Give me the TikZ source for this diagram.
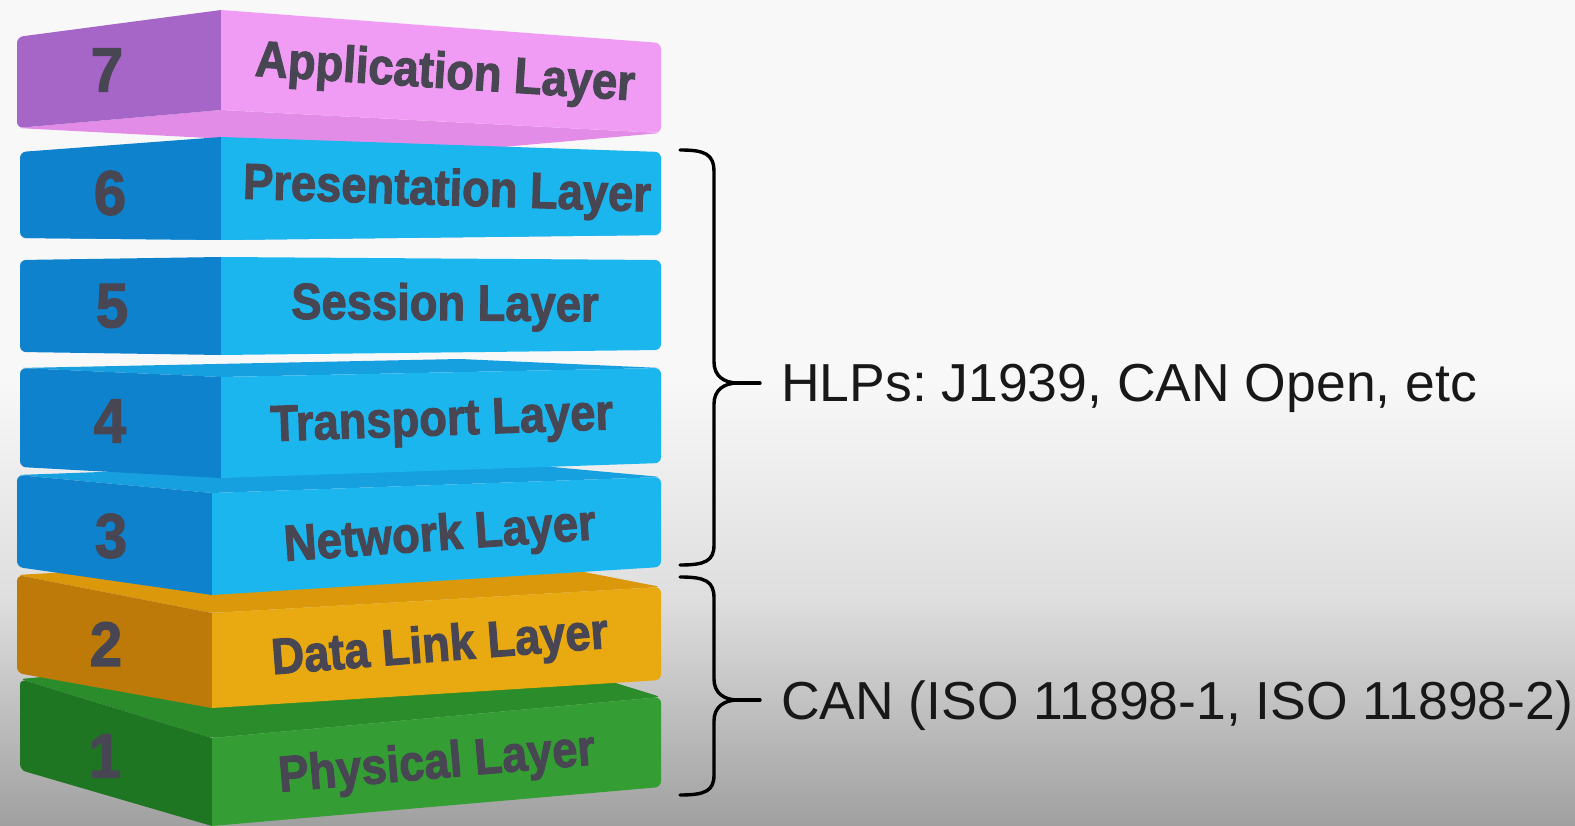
\documentclass[tikz,border=0pt]{standalone}
\usepackage{fontspec}
\setmainfont{Liberation Sans}
\newfontfamily\slabfont{Liberation Sans}[BoldFeatures={FakeBold=2.2}]
\usetikzlibrary{calc}

\definecolor{bgtop}{RGB}{248,248,248}
\definecolor{bgmid}{RGB}{222,222,222}
\definecolor{bgbot}{RGB}{160,160,160}
\definecolor{appL}{RGB}{166,102,200}
\definecolor{appR}{RGB}{240,156,244}
\definecolor{appC}{RGB}{226,140,232}
\definecolor{bluL}{RGB}{14,130,204}
\definecolor{bluR}{RGB}{28,182,238}
\definecolor{bluC}{RGB}{22,160,224}
\definecolor{dllL}{RGB}{190,122,8}
\definecolor{dllR}{RGB}{232,170,16}
\definecolor{dllC}{RGB}{218,152,10}
\definecolor{phyL}{RGB}{30,118,34}
\definecolor{phyR}{RGB}{52,158,52}
\definecolor{phyC}{RGB}{42,140,42}
\definecolor{slabink}{RGB}{72,70,82}
\definecolor{labelink}{RGB}{24,24,24}

% left face and front face of one slab, from its six named corners
\newcommand\slabbody[3]{%
  \fill[#2] (#1-ct) [rounded corners=6pt] -- (#1-lt) -- (#1-lb) [sharp corners] -- (#1-cb) -- cycle;
  \fill[#3] (#1-ct) [rounded corners=6pt] -- (#1-rt) -- (#1-rb) [sharp corners] -- (#1-cb) -- cycle;
}
% upper face (slabs below eye level)
\newcommand\slabtop[2]{%
  \fill[#2, rounded corners=5pt] (#1-lt) -- (#1-ct) -- (#1-rt) -- ($(#1-lt)+(#1-rt)-(#1-ct)$) -- cycle;
}
% lower face (slabs above eye level)
\newcommand\slabbottom[2]{%
  \fill[#2, rounded corners=5pt] (#1-lb) -- (#1-cb) -- (#1-rb) -- ($(#1-lb)+(#1-rb)-(#1-cb)$) -- cycle;
}

\begin{document}
\frenchspacing
\begin{tikzpicture}[x=1pt,y=-1pt,
  slabtext/.style={inner sep=0pt, text=slabink, font=\fontsize{44}{44}\selectfont\slabfont\bfseries},
  slabnum/.style={inner sep=0pt, text=slabink, font=\fontsize{58}{58}\selectfont\slabfont\bfseries},
  bracetext/.style={inner sep=0pt, anchor=base west, text=labelink, font=\fontsize{53.5}{53.5}\selectfont},
  brace/.style={draw=black, line width=3.4pt, line cap=round, line join=round}]

\useasboundingbox (0,0) rectangle (1575,826);

% backdrop: light at the top, darkening towards the bottom
\fill[bgtop] (0,0) rectangle (1575,380);
\shade[top color=bgtop, bottom color=bgmid] (0,380) rectangle (1575,600);
\shade[top color=bgmid, bottom color=bgbot] (0,599) rectangle (1575,826);

% ---- corners of the seven slabs ----
% 1 Physical
\coordinate (s1-lt) at (20,679);  \coordinate (s1-ct) at (212,738); \coordinate (s1-rt) at (661,697);
\coordinate (s1-lb) at (20,770);  \coordinate (s1-cb) at (212,826); \coordinate (s1-rb) at (661,787);
% 2 Data Link
\coordinate (s2-lt) at (17,575);  \coordinate (s2-ct) at (212,613); \coordinate (s2-rt) at (661,587);
\coordinate (s2-lb) at (17,673);  \coordinate (s2-cb) at (212,708); \coordinate (s2-rb) at (661,680);
% 3 Network
\coordinate (s3-lt) at (17,475);  \coordinate (s3-ct) at (212,493); \coordinate (s3-rt) at (661,477);
\coordinate (s3-lb) at (17,567);  \coordinate (s3-cb) at (212,595); \coordinate (s3-rb) at (661,567);
% 4 Transport
\coordinate (s4-lt) at (20,368);  \coordinate (s4-ct) at (221,377); \coordinate (s4-rt) at (661,368);
\coordinate (s4-lb) at (20,467);  \coordinate (s4-cb) at (221,478); \coordinate (s4-rb) at (661,463);
% 5 Session
\coordinate (s5-lt) at (20,260);  \coordinate (s5-ct) at (221,257); \coordinate (s5-rt) at (661,260);
\coordinate (s5-lb) at (20,352);  \coordinate (s5-cb) at (221,355); \coordinate (s5-rb) at (661,350);
% 6 Presentation
\coordinate (s6-lt) at (20,152);  \coordinate (s6-ct) at (221,137); \coordinate (s6-rt) at (661,152);
\coordinate (s6-lb) at (20,238);  \coordinate (s6-cb) at (221,240); \coordinate (s6-rb) at (661,235);
% 7 Application
\coordinate (s7-lt) at (17,37);   \coordinate (s7-ct) at (221,10);  \coordinate (s7-rt) at (661,43);
\coordinate (s7-lb) at (17,128);  \coordinate (s7-cb) at (221,110); \coordinate (s7-rb) at (661,133);

% ---- slabs, back to front ----
\slabtop{s1}{phyC}\slabbody{s1}{phyL}{phyR}
\slabtop{s2}{dllC}\slabbody{s2}{dllL}{dllR}
\slabtop{s3}{bluC}\slabbody{s3}{bluL}{bluR}
\slabtop{s4}{bluC}\slabbody{s4}{bluL}{bluR}
\slabbottom{s7}{appC}\slabbody{s7}{appL}{appR}
\slabbottom{s6}{bluC}\slabbody{s6}{bluL}{bluR}
\slabbody{s5}{bluL}{bluR}

% ---- numbers ----
\node[slabnum] (n7) at (107,70)  {\scalebox{1}[1.08]{7}};
\node[slabnum] (n6) at (110,193) {\scalebox{1}[1.08]{6}};
\node[slabnum] (n5) at (112,306) {\scalebox{1}[1.08]{5}};
\node[slabnum] (n4) at (110,421) {\scalebox{1}[1.08]{4}};
\node[slabnum] (n3) at (111,536) {\scalebox{1}[1.08]{3}};
\node[slabnum] (n2) at (106,644) {\scalebox{1}[1.08]{2}};
\node[slabnum] (n1) at (105,756) {\scalebox{1}[1.08]{1}};

% ---- layer names ----
\node[slabtext, rotate=-3.7] (t7) at (445,75)  {\scalebox{1.03}[1.15]{Application Layer}};
\node[slabtext, rotate=-1.8] (t6) at (447,192) {\scalebox{1.03}[1.15]{Presentation Layer}};
\node[slabtext, rotate=-0.5] (t5) at (445,307) {\scalebox{1.03}[1.15]{Session Layer}};
\node[slabtext, rotate=2]    (t4) at (442,423) {\scalebox{1.03}[1.15]{Transport Layer}};
\node[slabtext, rotate=4]    (t3) at (440,537) {\scalebox{1.03}[1.15]{Network Layer}};
\node[slabtext, rotate=4.5]  (t2) at (440,648) {\scalebox{1.03}[1.15]{Data Link Layer}};
\node[slabtext, rotate=5]    (t1) at (437,765) {\scalebox{1.03}[1.15]{Physical Layer}};

% ---- braces ----
\coordinate (b1t) at (680,150); \coordinate (b1b) at (680,565);
\coordinate (b1tip) at (738,383); \coordinate (b1end) at (760,383);
\draw[brace] (b1t) .. controls (705,150) and (714,154) .. (714,172)
  -- (714,362) .. controls (714,376) and (724,383) .. (b1tip)
  .. controls (724,383) and (714,390) .. (714,404)
  -- (714,545) .. controls (714,561) and (705,565) .. (b1b);
\draw[brace] (b1tip) -- (b1end);

\coordinate (b2t) at (680,577); \coordinate (b2b) at (680,795);
\coordinate (b2tip) at (738,700); \coordinate (b2end) at (760,700);
\draw[brace] (b2t) .. controls (705,577) and (714,581) .. (714,598)
  -- (714,679) .. controls (714,693) and (724,700) .. (b2tip)
  .. controls (724,700) and (714,707) .. (714,721)
  -- (714,775) .. controls (714,791) and (705,795) .. (b2b);
\draw[brace] (b2tip) -- (b2end);

% ---- brace labels ----
\node[bracetext] (hlp) at (781,402) {HLPs: J1939, CAN Open, etc};
\node[bracetext] (can) at (781,719) {CAN (ISO 11898-1, ISO 11898-2)};
\end{tikzpicture}
\end{document}
